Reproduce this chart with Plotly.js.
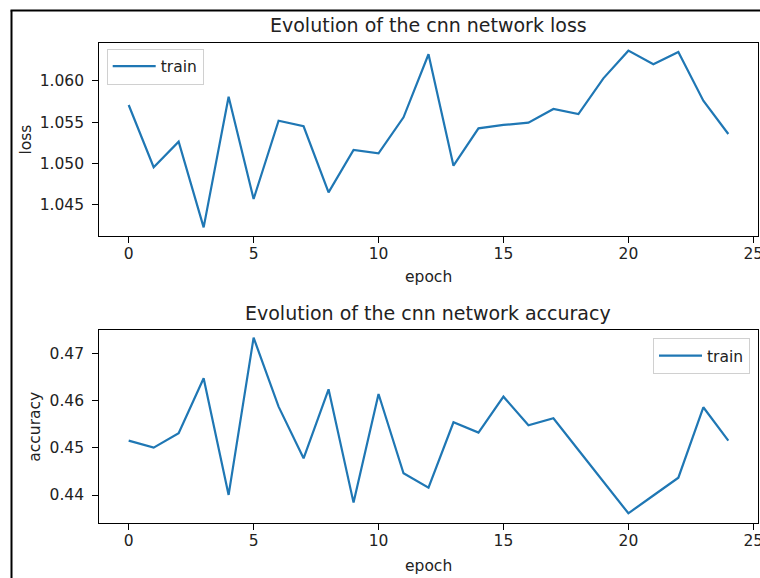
<!DOCTYPE html>
<html>
<head>
<meta charset="utf-8">
<script src="https://cdn.plot.ly/plotly-3.0.1.min.js"></script>
<style>html,body{margin:0;padding:0;background:#fff;}#chart{width:760px;height:578px;}</style>
</head>
<body>
<div id="chart"></div>
<script>
const epochs = [0,1,2,3,4,5,6,7,8,9,10,11,12,13,14,15,16,17,18,19,20,21,22,23,24];
const lossTrain = [1.05708,1.04950,1.05261,1.04219,1.05809,1.04564,1.05517,1.05449,1.04645,1.05160,1.05120,
                   1.05558,1.06325,1.04969,1.05424,1.05465,1.05493,1.05659,1.05598,1.06032,1.06369,1.06203,1.06353,1.05760,1.05355];
const accTrain = [0.45156,0.45008,0.45313,0.46482,0.44001,0.47347,0.45880,0.44781,0.46248,0.43838,0.46149,
                  0.44462,0.44157,0.45547,0.45327,0.46092,0.45483,0.45632,0.44957,0.44283,0.43611,0.43989,0.44368,0.45866,0.45156];
const xTicks = [0,5,10,15,20,25];
const lossTicks = [1.045,1.050,1.055,1.060];
const accTicks = [0.44,0.45,0.46,0.47];
const titles = ["Evolution of the cnn network loss","Evolution of the cnn network accuracy"];
const yLabels = ["loss","accuracy"];
const xLabel = "epoch";
const seriesName = "train";

const W = 760, H = 578;
const FONT = "DejaVu Sans, sans-serif";
const TXT = "#222";
const px = v => v / W;
const py = v => 1 - v / H;

const axisCommon = {
  showline: true, mirror: true, linecolor: "#000", linewidth: 1,
  ticks: "outside", ticklen: 5.5, tickwidth: 1, tickcolor: "#000",
  showgrid: false, zeroline: false, fixedrange: true,
  ticklabeloverflow: "allow",
  tickfont: {family: FONT, size: 15.5, color: TXT}
};
const xAxisExtra = {range: [-1.2, 25.2], tickvals: xTicks, ticklabelstandoff: -2};

const traces = [
  {x: epochs, y: lossTrain, type: "scatter", mode: "lines", name: seriesName, showlegend: true,
   line: {color: "#1f77b4", width: 2.2}, xaxis: "x", yaxis: "y", legend: "legend"},
  {x: epochs, y: accTrain, type: "scatter", mode: "lines", name: seriesName, showlegend: true,
   line: {color: "#1f77b4", width: 2.2}, xaxis: "x2", yaxis: "y2", legend: "legend2"}
];

const xdom = [px(98.7), px(758.3)];
const legendCommon = {bgcolor: "rgba(255,255,255,0.8)", bordercolor: "#d0d0d0", borderwidth: 1,
                      itemwidth: 43, font: {family: FONT, size: 15.5, color: TXT}};
const layout = {
  width: W, height: H,
  showlegend: true,
  margin: {l: 0, r: 0, t: 0, b: 0, pad: 0},
  paper_bgcolor: "#fff", plot_bgcolor: "#fff",
  font: {family: FONT, color: TXT},
  xaxis: Object.assign({}, axisCommon, xAxisExtra, {domain: xdom, anchor: "y"}),
  yaxis: Object.assign({}, axisCommon, {domain: [py(236), py(43)], anchor: "x", range: [1.04114, 1.06462], tickvals: lossTicks, tickformat: ".3f", ticklabelstandoff: 5}),
  xaxis2: Object.assign({}, axisCommon, xAxisExtra, {domain: xdom, anchor: "y2"}),
  yaxis2: Object.assign({}, axisCommon, {domain: [py(523.3), py(330)], anchor: "x2", range: [0.43398, 0.4751], tickvals: accTicks, tickformat: ".2f", ticklabelstandoff: 5}),
  legend: Object.assign({}, legendCommon, {x: px(106.7), y: py(48.5), xanchor: "left", yanchor: "top"}),
  legend2: Object.assign({}, legendCommon, {x: px(750), y: py(338), xanchor: "right", yanchor: "top"}),
  annotations: [
    {text: titles[0], xref: "paper", yref: "paper", x: px(428.5), y: py(25), xanchor: "center", yanchor: "middle", showarrow: false, font: {family: FONT, size: 19, color: TXT}},
    {text: titles[1], xref: "paper", yref: "paper", x: px(428.5), y: py(313), xanchor: "center", yanchor: "middle", showarrow: false, font: {family: FONT, size: 19, color: TXT}},
    {text: xLabel, xref: "paper", yref: "paper", x: px(428.5), y: py(277), xanchor: "center", yanchor: "middle", showarrow: false, font: {family: FONT, size: 15.5, color: TXT}},
    {text: xLabel, xref: "paper", yref: "paper", x: px(428.5), y: py(565.5), xanchor: "center", yanchor: "middle", showarrow: false, font: {family: FONT, size: 15.5, color: TXT}},
    {text: yLabels[0], xref: "paper", yref: "paper", x: px(25), y: py(139.5), xanchor: "center", yanchor: "middle", textangle: -90, showarrow: false, font: {family: FONT, size: 15.5, color: TXT}},
    {text: yLabels[1], xref: "paper", yref: "paper", x: px(35), y: py(426.7), xanchor: "center", yanchor: "middle", textangle: -90, showarrow: false, font: {family: FONT, size: 15.5, color: TXT}}
  ],
  shapes: [
    {type: "line", xref: "paper", yref: "paper", x0: px(11.5), x1: px(11.5), y0: 0, y1: py(10.5), line: {color: "#000", width: 2}},
    {type: "line", xref: "paper", yref: "paper", x0: px(10.5), x1: 1, y0: py(10.5), y1: py(10.5), line: {color: "#000", width: 2}}
  ]
};

Plotly.newPlot("chart", traces, layout, {displayModeBar: false, staticPlot: true});
</script>
</body>
</html>
